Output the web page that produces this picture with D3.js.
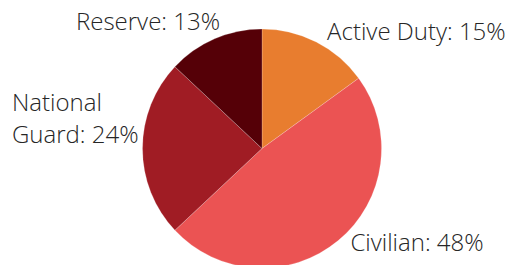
<!DOCTYPE html>
<html><head><meta charset="utf-8">
<script src="https://cdn.jsdelivr.net/npm/d3@7"></script>
<style>html,body{margin:0;padding:0;background:#fff;overflow:hidden}</style>
</head><body><svg id="c" width="509" height="265"></svg>
<script>
const categories = ["Active Duty", "Civilian", "National Guard", "Reserve"];
const values = [15, 48, 24, 13];
const colors = ["#E87D2F", "#EB5353", "#A01C24", "#550007"];

const W = 509, H = 265, cx = 262, cy = 148.5, R = 119.5;
const svg = d3.select("#c");
const g = svg.append("g").attr("transform", `translate(${cx},${cy})`);
const pie = d3.pie().sort(null).value(d => d)(values);
const arc = d3.arc().innerRadius(0).outerRadius(R);
g.selectAll("path").data(pie).join("path")
  .attr("d", arc).attr("fill", (d, i) => colors[i])
  .attr("stroke", "#fff").attr("stroke-width", 0.5).attr("stroke-opacity", 0.4);

const font = "'Open Sans', sans-serif", fs = 24;
// label layout: anchor + offsets from outer point at mid-angle
const layout = [
  {anchor: "start", k: 1.2, dx: 0, dy: 19},
  {anchor: "start", k: 1.2, dx: -3, dy: -8},
  {anchor: "start", k: 1.0, dx: -130.5, dy: -37.5},
  {anchor: "end", k: 1.2, dx: 15, dy: 13}
];
pie.forEach((d, i) => {
  const a = (d.startAngle + d.endAngle) / 2, L = layout[i];
  const x = cx + Math.sin(a) * R * L.k + L.dx, y = cy - Math.cos(a) * R * L.k + L.dy;
  const pct = Math.round(d.value / d3.sum(values) * 100) + "%";
  const t = svg.append("text").attr("x", x).attr("y", y).attr("text-anchor", L.anchor)
    .attr("font-family", font).attr("font-size", fs).attr("font-weight", 300).attr("fill", "#262626");
  if (categories[i] === "National Guard") {
    t.append("tspan").attr("x", x).text("National");
    t.append("tspan").attr("x", x).attr("dy", 32).text("Guard: " + pct);
  } else {
    t.text(categories[i] + ": " + pct);
  }
});
</script></body></html>
